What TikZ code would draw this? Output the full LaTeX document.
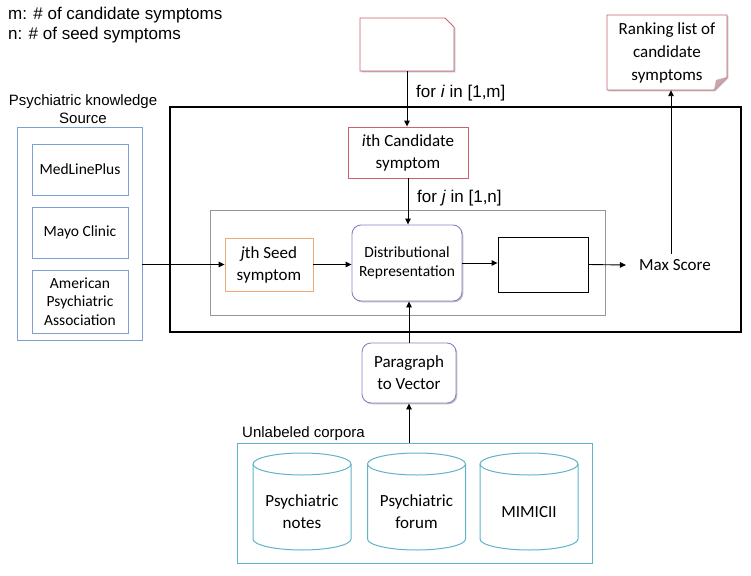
\documentclass[tikz,border=0pt]{standalone}
\usepackage{fontspec}
\setmainfont{Carlito}
\newfontfamily\arialf{Liberation Sans}
\usetikzlibrary{arrows.meta,shadows}
\definecolor{redb}{RGB}{205,95,110}
\definecolor{blueb}{RGB}{125,160,210}
\definecolor{orangeb}{RGB}{240,170,120}
\definecolor{purpleb}{RGB}{145,125,195}
\definecolor{grayb}{RGB}{150,150,150}
\definecolor{tealb}{RGB}{95,180,200}
\definecolor{foldc}{RGB}{205,165,170}
\tikzset{
  shad/.style={drop shadow={shadow xshift=1.3pt,shadow yshift=-1.3pt,opacity=.25,fill=black}},
  boxn/.style={draw, line width=0.9pt, fill=white, inner sep=0pt, align=center, font=\fontsize{17}{22}\selectfont, shad},
  smalltext/.style={font=\fontsize{15.5}{18.5}\selectfont},
  arial/.style={font=\arialf\fontsize{17}{20}\selectfont},
  arials/.style={font=\arialf\fontsize{15}{18}\selectfont},
  arr/.style={line width=0.9pt, -{Triangle[length=6pt,width=5.5pt]}},
  plain/.style={inner sep=0pt, align=center},
}
\begin{document}
\begin{tikzpicture}[x=1pt,y=-1pt]
\useasboundingbox (0,0) rectangle (751,575);

% legend
\node[arial, anchor=west, plain] (legm) at (8,15) {m: \# of candidate symptoms};
\node[arial, anchor=west, plain] (legn) at (8,35) {n: \# of seed symptoms};

% outer big box and inner gray box
\draw[line width=1.5pt] (170,107) rectangle (741,332);
\node[draw=grayb, line width=1pt, minimum width=395pt, minimum height=105pt, inner sep=0pt] (loop) at (407.5,262.5) {};

% top document shape
\node[plain, minimum width=94pt, minimum height=53pt] (doc) at (407,44.5) {};
\draw[redb, line width=0.9pt, fill=white, shad] (360,18) -- (445,18) -- (454,27) -- (454,71) -- (360,71) -- cycle;

% ranking list
\draw[redb, line width=0.9pt, fill=white, shad] (607,15) -- (727,15) -- (727,77) -- (714,90) -- (607,90) -- cycle;
\fill[foldc] (727,77) -- (716,80) -- (714,90) -- cycle;
\node[plain, font=\fontsize{17}{23}\selectfont, minimum width=120pt, minimum height=75pt] (rank) at (667,52.5) {Ranking list of\\candidate\\symptoms};

% candidate
\node[boxn, draw=redb, minimum width=120pt, minimum height=51pt] (cand) at (408,152.5) {\textit{i}th Candidate\\symptom};
\node[boxn, draw=orangeb, minimum width=88pt, minimum height=53pt] (seed) at (269,264.5) {\textit{j}th Seed\\symptom};
\node[boxn, draw=purpleb, rounded corners=9pt, minimum width=110pt, minimum height=76pt, font=\fontsize{15.5}{19}\selectfont] (dist) at (407,263) {Distributional\\Representation};
\node[boxn, draw=black, minimum width=90pt, minimum height=55pt] (blank) at (543,264.5) {};
\node[plain, font=\fontsize{17}{20}\selectfont, inner sep=5pt] (max) at (671,265) {\hspace*{8pt}Max Score};

% knowledge source
\node[arials, plain] (kstitle) at (83,109) {Psychiatric knowledge\\Source};
\node[draw=blueb, line width=0.9pt, fill=white, shad, minimum width=125pt, minimum height=213pt, inner sep=0pt] (ks) at (79.5,233.5) {};
\node[boxn, draw=blueb, smalltext, minimum width=96pt, minimum height=51pt] (med) at (80,169.5) {MedLinePlus};
\node[boxn, draw=blueb, smalltext, minimum width=96pt, minimum height=51pt] (mayo) at (80,232.5) {Mayo Clinic};
\node[boxn, draw=blueb, smalltext, minimum width=96pt, minimum height=63pt] (apa) at (80,301.5) {American\\Psychiatric\\Association};

% paragraph to vector
\node[boxn, draw=purpleb, rounded corners=9pt, minimum width=94pt, minimum height=60pt] (para) at (409,373) {Paragraph\\to Vector};

% corpora
\node[arials, plain, anchor=west] (corplab) at (242,434) {Unlabeled corpora};
\node[draw=tealb, line width=1pt, fill=white, shad, minimum width=355pt, minimum height=120pt, inner sep=0pt] (corp) at (414.5,503) {};
\foreach \cx/\nm/\tx in {302/c1/{Psychiatric\\notes}, 416.5/c2/{Psychiatric\\forum}, 529/c3/{MIMICII}} {
  \draw[tealb, line width=1pt, fill=white] (\cx-49,464) -- (\cx-49,539) arc[start angle=180,end angle=360,x radius=49pt,y radius=11pt] -- (\cx+49,464);
  \draw[tealb, line width=1pt, fill=white] (\cx,464) ellipse [x radius=49pt, y radius=11pt];
  \node[plain, font=\fontsize{17}{22}\selectfont] (\nm) at (\cx,512) {\tx};
}

% connectors
\draw[arr] (doc.south) -- (doc.south |- cand.north);
\node[arial, plain, anchor=west] (fori) at (416,93) {for \textit{i} in [1,m]};
\draw[arr] (cand.south) -- (cand.south |- dist.north);
\node[arial, plain, anchor=west] (forj) at (417,198) {for \textit{j} in [1,n]};
\draw[arr] (ks.east |- seed.west) -- (seed.west);
\draw[arr] (seed.east) -- (seed.east -| dist.west);
\draw[arr] (dist.east) -- (dist.east -| blank.west);
\draw[arr] (blank.east) -- (max.west);
\draw[arr] (max.north) -- (max.north |- rank.south);
\draw[arr] (para.north) -- (para.north |- dist.south);
\draw[arr] (para.south |- corp.north) -- (para.south);
\end{tikzpicture}
\end{document}
